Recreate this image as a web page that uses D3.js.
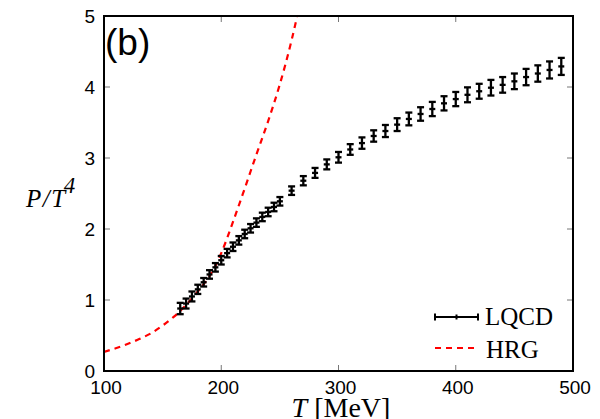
<!DOCTYPE html>
<html>
<head>
<meta charset="utf-8">
<script src="https://cdn.jsdelivr.net/npm/d3@7"></script>
<style>
  body { margin: 0; background: #fff; }
  svg { display: block; }
</style>
</head>
<body>
<div id="chart"></div>
<script>
// LQCD points (T in MeV, P/T^4, error)
const lqcdT = [165, 170, 175, 180, 185, 190, 195, 200, 205, 210, 215, 220, 225, 230, 235, 240, 245, 250,
  260, 270, 280, 290, 300, 310, 320, 330, 340, 350, 360, 370, 380, 390, 400, 410, 420, 430, 440, 450, 460, 470, 480, 490];
const lqcdP = [0.88, 0.95, 1.05, 1.15, 1.25, 1.36, 1.46, 1.56, 1.66, 1.75, 1.84, 1.93, 2.01, 2.09, 2.17, 2.24, 2.31, 2.39,
  2.54, 2.68, 2.79, 2.91, 3.01, 3.12, 3.21, 3.31, 3.38, 3.47, 3.55, 3.62, 3.69, 3.77, 3.83, 3.89, 3.94, 3.99, 4.03, 4.08, 4.14, 4.19, 4.24, 4.29];
const lqcdErr = [0.08, 0.07, 0.07, 0.065, 0.06, 0.06, 0.06, 0.06, 0.06, 0.06, 0.06, 0.06, 0.06, 0.06, 0.06, 0.06, 0.06, 0.06,
  0.06, 0.065, 0.07, 0.07, 0.075, 0.075, 0.08, 0.08, 0.085, 0.09, 0.09, 0.095, 0.1, 0.1, 0.1, 0.105, 0.105, 0.11, 0.11, 0.11, 0.115, 0.115, 0.12, 0.12];

// HRG curve
const hrgT = [100, 110, 120, 130, 140, 150, 160, 170, 180, 190, 195, 200, 210, 220, 230, 240, 250, 260, 270];
const hrgP = [0.27, 0.32, 0.38, 0.45, 0.53, 0.64, 0.77, 0.93, 1.12, 1.34, 1.48, 1.66, 2.10, 2.57, 3.05, 3.52, 4.04, 4.66, 5.4];

const xTicks = [100, 200, 300, 400, 500];
const yTicks = [0, 1, 2, 3, 4, 5];

const width = 600, height = 419;
const margin = { top: 16, right: 27, bottom: 48, left: 104 };

const svg = d3.select('#chart').append('svg')
  .attr('width', width)
  .attr('height', height);

const x = d3.scaleLinear().domain([100, 500]).range([margin.left, width - margin.right]);
const y = d3.scaleLinear().domain([0, 5]).range([height - margin.bottom, margin.top]);

svg.append('clipPath').attr('id', 'clip')
  .append('rect')
  .attr('x', x(100)).attr('y', y(5))
  .attr('width', x(500) - x(100)).attr('height', y(0) - y(5));

// inward ticks on all four sides
const tickCol = '#777';
svg.append('g').selectAll('line').data(yTicks.slice(1, -1)).join('line')
  .attr('x1', x(100)).attr('x2', x(100) + 6)
  .attr('y1', d => y(d)).attr('y2', d => y(d))
  .attr('stroke', tickCol);
svg.append('g').selectAll('line').data(yTicks.slice(1, -1)).join('line')
  .attr('x1', x(500)).attr('x2', x(500) - 6)
  .attr('y1', d => y(d)).attr('y2', d => y(d))
  .attr('stroke', tickCol);
svg.append('g').selectAll('line').data(xTicks.slice(1, -1)).join('line')
  .attr('x1', d => x(d)).attr('x2', d => x(d))
  .attr('y1', y(0)).attr('y2', y(0) - 6)
  .attr('stroke', tickCol);
svg.append('g').selectAll('line').data(xTicks.slice(1, -1)).join('line')
  .attr('x1', d => x(d)).attr('x2', d => x(d))
  .attr('y1', y(5)).attr('y2', y(5) + 6)
  .attr('stroke', tickCol);

// tick labels
svg.append('g')
  .attr('font-family', '"Liberation Sans", Arial, sans-serif')
  .attr('font-size', 19)
  .attr('fill', '#000')
  .selectAll('text').data(yTicks).join('text')
    .attr('x', x(100) - 9)
    .attr('y', d => y(d))
    .attr('dy', '0.36em')
    .attr('text-anchor', 'end')
    .text(d => d);

svg.append('g')
  .attr('font-family', '"Liberation Sans", Arial, sans-serif')
  .attr('font-size', 19)
  .attr('fill', '#000')
  .selectAll('text').data(xTicks).join('text')
    .attr('x', d => x(d) + 2)
    .attr('y', y(0) + 23)
    .attr('text-anchor', 'middle')
    .text(d => d);

// HRG dashed curve
const line = d3.line()
  .x((d, i) => x(hrgT[i]))
  .y((d, i) => y(hrgP[i]))
  .curve(d3.curveMonotoneX);

svg.append('path')
  .datum(hrgP)
  .attr('clip-path', 'url(#clip)')
  .attr('d', line)
  .attr('fill', 'none')
  .attr('stroke', '#ff0000')
  .attr('stroke-width', 2.2)
  .attr('stroke-dasharray', '6,5');

// LQCD error bars
const bars = svg.append('g')
  .attr('stroke', '#000')
  .attr('stroke-width', 2.3)
  .selectAll('g').data(lqcdT).join('g');

bars.append('line')
  .attr('x1', d => x(d)).attr('x2', d => x(d))
  .attr('y1', (d, i) => y(lqcdP[i] - lqcdErr[i]))
  .attr('y2', (d, i) => y(lqcdP[i] + lqcdErr[i]));
bars.append('line')
  .attr('x1', d => x(d) - 3.5).attr('x2', d => x(d) + 3.5)
  .attr('y1', (d, i) => y(lqcdP[i] - lqcdErr[i]))
  .attr('y2', (d, i) => y(lqcdP[i] - lqcdErr[i]));
bars.append('line')
  .attr('x1', d => x(d) - 3.5).attr('x2', d => x(d) + 3.5)
  .attr('y1', (d, i) => y(lqcdP[i] + lqcdErr[i]))
  .attr('y2', (d, i) => y(lqcdP[i] + lqcdErr[i]));
bars.append('line')
  .attr('x1', d => x(d) - 3).attr('x2', d => x(d) + 3)
  .attr('y1', (d, i) => y(lqcdP[i]))
  .attr('y2', (d, i) => y(lqcdP[i]));

// frame
svg.append('rect')
  .attr('x', x(100)).attr('y', y(5))
  .attr('width', x(500) - x(100)).attr('height', y(0) - y(5))
  .attr('fill', 'none')
  .attr('stroke', '#000')
  .attr('stroke-width', 2);

// panel label
svg.append('text')
  .attr('x', 105).attr('y', 55)
  .attr('font-family', '"Liberation Sans", Arial, sans-serif')
  .attr('font-size', 37)
  .text('(b)');

// axis titles
const serif = '"Liberation Serif", "Times New Roman", serif';
const xt = svg.append('text')
  .attr('x', 341).attr('y', 417)
  .attr('text-anchor', 'middle')
  .attr('font-family', serif)
  .attr('font-size', 28);
xt.append('tspan').attr('font-style', 'italic').text('T');
xt.append('tspan').text(' [MeV]');

const yt = svg.append('text')
  .attr('x', 26).attr('y', 207)
  .attr('font-family', serif)
  .attr('font-size', 25)
  .attr('letter-spacing', 1.5)
  .attr('font-style', 'italic');
yt.append('tspan').text('P/T');
yt.append('tspan').attr('dy', -14).attr('font-size', 23).attr('dx', -3).text('4');

// legend
const leg = svg.append('g');
const ly1 = 317, ly2 = 348;
leg.append('line').attr('x1', 435).attr('x2', 478).attr('y1', ly1).attr('y2', ly1)
  .attr('stroke', '#000').attr('stroke-width', 2);
[435, 456.5, 478].forEach(px => {
  leg.append('line').attr('x1', px).attr('x2', px)
    .attr('y1', ly1 - (px === 456.5 ? 2.5 : 3.5)).attr('y2', ly1 + (px === 456.5 ? 2.5 : 3.5))
    .attr('stroke', '#000').attr('stroke-width', 2);
});
leg.append('line').attr('x1', 435).attr('x2', 478).attr('y1', ly2).attr('y2', ly2)
  .attr('stroke', '#ff0000').attr('stroke-width', 2.2).attr('stroke-dasharray', '6,5');
leg.append('text').attr('x', 485).attr('y', ly1 + 8)
  .attr('font-family', serif).attr('font-size', 25).text('LQCD');
leg.append('text').attr('x', 486).attr('y', ly2 + 10)
  .attr('font-family', serif).attr('font-size', 25).text('HRG');
</script>
</body>
</html>
